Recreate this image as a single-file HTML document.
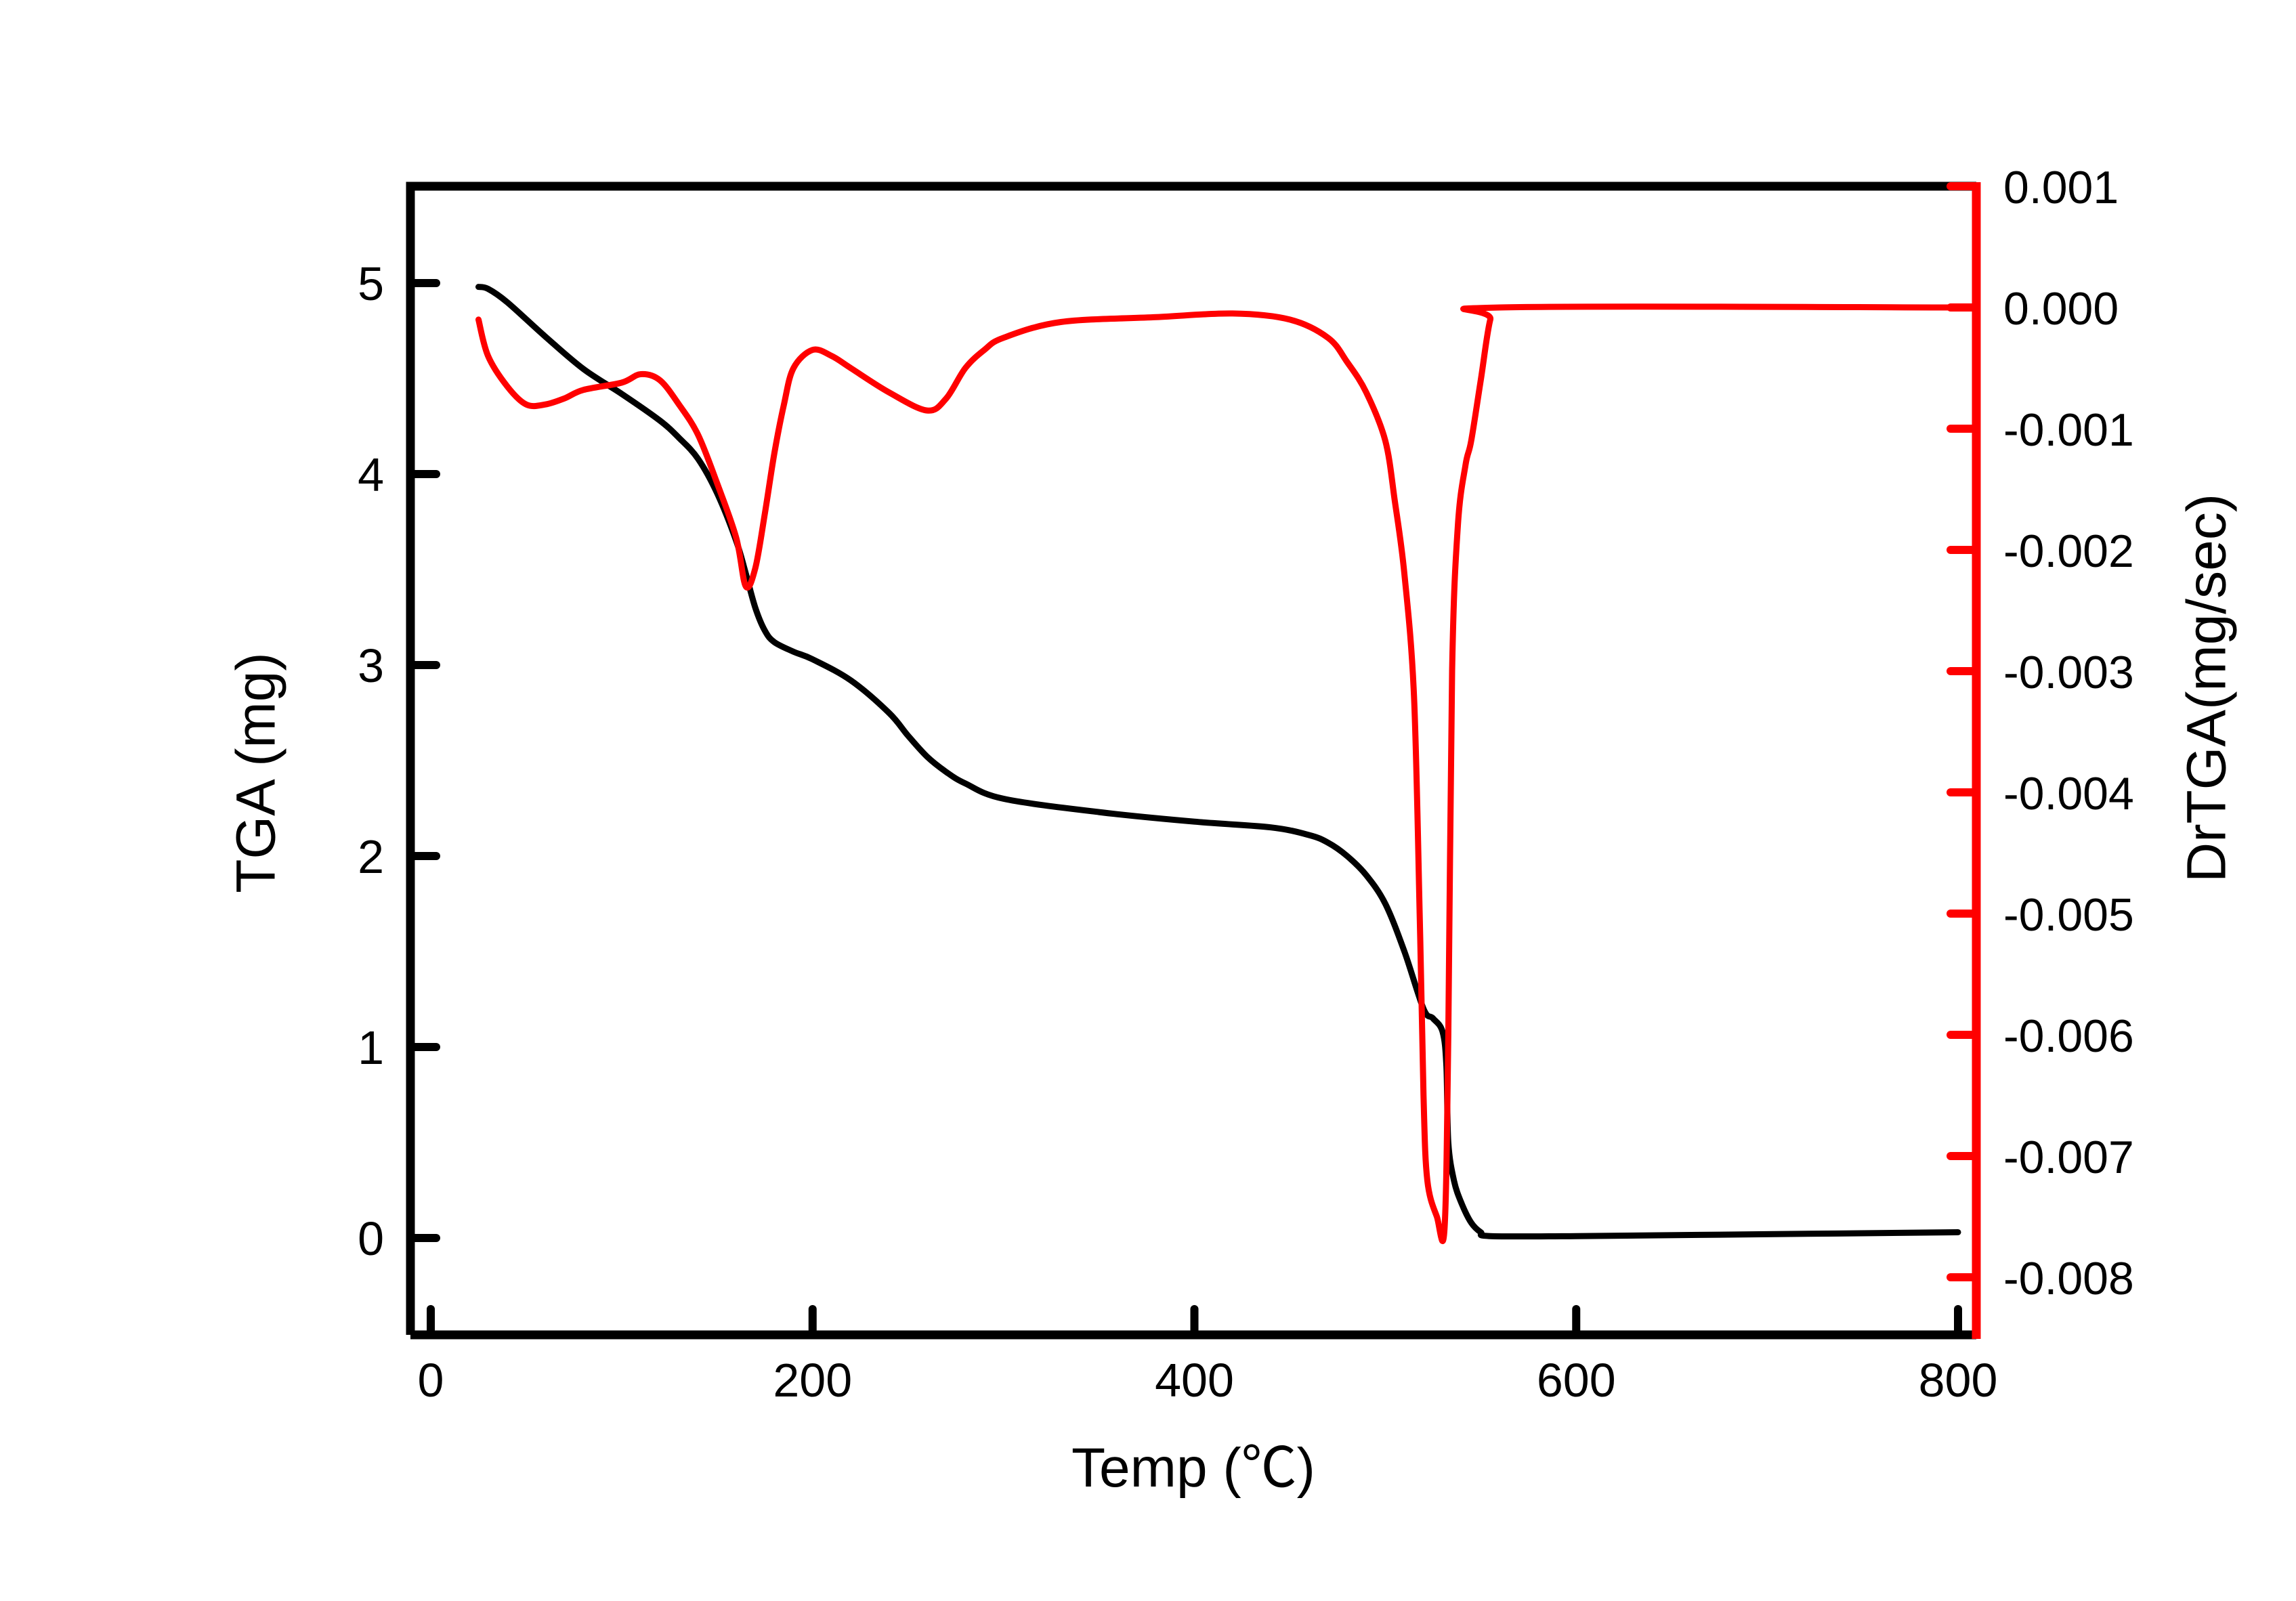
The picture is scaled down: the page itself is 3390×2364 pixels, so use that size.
<!DOCTYPE html>
<html><head><meta charset="utf-8"><style>
html,body{margin:0;padding:0;background:#fff;}
svg{display:block;}
text{font-family:"Liberation Sans","Noto Sans CJK SC",sans-serif;}
</style></head><body>
<svg id="chart" width="3390" height="2364" viewBox="0 0 3390 2364" xmlns="http://www.w3.org/2000/svg">
<rect x="0" y="0" width="3390" height="2364" fill="#fff"/>
<g id="plot"></g>
<g id="axes"></g>
<text x="378" y="1141" font-size="82" text-anchor="middle" dominant-baseline="central" transform="rotate(-90 378 1141)">TGA (mg)</text>
<text x="3258" y="1016" font-size="82" text-anchor="middle" dominant-baseline="central" transform="rotate(-90 3258 1016)">DrTGA(mg/sec)</text>
<text x="1762" y="2195" font-size="82" text-anchor="middle">Temp (℃)</text>
</svg>
<script>
const xTicks = [0, 200, 400, 600, 800];
const yTicks = [0, 1, 2, 3, 4, 5];
const y2Ticks = [0.001, 0.000, -0.001, -0.002, -0.003, -0.004, -0.005, -0.006, -0.007, -0.008];
const y2TickLabels = ["0.001","0.000","-0.001","-0.002","-0.003","-0.004","-0.005","-0.006","-0.007","-0.008"];
const tgaTemp = [25,30,40,60,80,100,120,130,140,150,160,165,170,175,180,190,200,220,240,250,260,270,280,300,350,400,440,460,470,480,490,500,510,520,525,530,532,533,536,540,545,550,555,600,700,800];
const tgaMass = [4.98,4.97,4.9,4.72,4.55,4.42,4.28,4.19,4.08,3.9,3.65,3.48,3.3,3.18,3.12,3.07,3.03,2.92,2.75,2.63,2.52,2.44,2.38,2.3,2.23,2.18,2.15,2.11,2.07,2.0,1.9,1.75,1.5,1.2,1.15,1.08,0.9,0.5,0.3,0.18,0.08,0.03,0.01,0.01,0.02,0.03];
const dtgTemp = [25,30,40,50,60,70,80,100,110,120,130,140,150,160,165,170,175,180,185,190,200,210,220,240,260,270,280,290,300,330,380,420,450,470,480,490,500,505,510,515,518,520,522,527,531,533,535,538,542,545,550,555,560,800];
const dtgRate = [-0.0001,-0.0004,-0.00065,-0.0008,-0.0008,-0.00075,-0.00068,-0.00062,-0.00055,-0.0006,-0.0008,-0.00105,-0.00145,-0.0019,-0.0023,-0.00215,-0.0017,-0.0012,-0.0008,-0.0005,-0.00035,-0.0004,-0.0005,-0.0007,-0.00085,-0.00075,-0.0005,-0.00035,-0.00025,-0.00012,-0.00008,-0.00005,-0.0001,-0.00025,-0.00045,-0.0007,-0.0011,-0.0016,-0.0022,-0.0032,-0.005,-0.0065,-0.0072,-0.0075,-0.0076,-0.006,-0.003,-0.0018,-0.0013,-0.0011,-0.0006,-0.0001,0.0,0.0];

const NS = "http://www.w3.org/2000/svg";
const L = 606, R = 2918, T = 275, B = 1971;
function xs(v){ return 636 + (v - 0) * (2891 - 636) / 800; }
function ys(v){ return 1828 + (v - 0) * (418 - 1828) / 5; }
function y2s(v){ return 454 + (v - 0) * (275 - 454) / 0.001; }
const plot = document.getElementById('plot');
const axes = document.getElementById('axes');
function mk(tag, attrs, parent){ const e = document.createElementNS(NS, tag); for (const k in attrs) e.setAttribute(k, attrs[k]); parent.appendChild(e); return e; }
function smooth(pts){
  let s = 'M' + pts[0][0].toFixed(1) + ',' + pts[0][1].toFixed(1);
  for (let i = 0; i < pts.length - 1; i++){
    const p0 = pts[i-1] || pts[i], p1 = pts[i], p2 = pts[i+1], p3 = pts[i+2] || p2;
    const k = 1/6;
    const c1 = [p1[0] + (p2[0]-p0[0])*k, p1[1] + (p2[1]-p0[1])*k];
    const c2 = [p2[0] - (p3[0]-p1[0])*k, p2[1] - (p3[1]-p1[1])*k];
    s += ' C' + c1[0].toFixed(1)+','+c1[1].toFixed(1)+' '+c2[0].toFixed(1)+','+c2[1].toFixed(1)+' '+p2[0].toFixed(1)+','+p2[1].toFixed(1);
  }
  return s;
}

const tga = mk('path', {d:smooth(tgaTemp.map((t,i)=>[xs(t), ys(tgaMass[i])])), fill:'none', stroke:'#000', 'stroke-width':9, 'stroke-linejoin':'round', 'stroke-linecap':'round'}, plot);


const dtg = mk('path', {d:smooth(dtgTemp.map((t,i)=>[xs(t), y2s(dtgRate[i])])), fill:'none', stroke:'#ff0000', 'stroke-width':9, 'stroke-linejoin':'round', 'stroke-linecap':'round'}, plot);



const frame = mk('path', {d:`M${L},${B} L${L},${T} L${R},${T}`, fill:'none', stroke:'#000', 'stroke-width':13}, axes);


const bottom = mk('line', {x1:L, y1:B, x2:R, y2:B, stroke:'#000', 'stroke-width':13}, axes);


const right = mk('line', {x1:R, y1:T-6, x2:R, y2:B+6, stroke:'#ff0000', 'stroke-width':13}, axes);



xTicks.forEach(v=>{
  const tk = mk('line', {x1:xs(v), y1:B, x2:xs(v), y2:B-38, stroke:'#000', 'stroke-width':12, 'stroke-linecap':'round'}, axes);
  
  
  const tx = mk('text', {x:xs(v), y:2062, 'font-size':70, 'text-anchor':'middle'}, axes);
  tx.textContent = String(v);
  
  
});
yTicks.forEach(v=>{
  const tk = mk('line', {x1:L, y1:ys(v), x2:L+38, y2:ys(v), stroke:'#000', 'stroke-width':12, 'stroke-linecap':'round'}, axes);
  
  
  const tx = mk('text', {x:567, y:ys(v)+25, 'font-size':70, 'text-anchor':'end'}, axes);
  tx.textContent = String(v);
  
  
});
y2Ticks.forEach((v,i)=>{
  const tk = mk('line', {x1:R, y1:y2s(v), x2:R-38, y2:y2s(v), stroke:'#ff0000', 'stroke-width':12, 'stroke-linecap':'round'}, axes);
  
  
  const tx = mk('text', {x:2958, y:y2s(v)+25, 'font-size':68, 'text-anchor':'start'}, axes);
  tx.textContent = y2TickLabels[i];
  
  
});
</script>
</body></html>
